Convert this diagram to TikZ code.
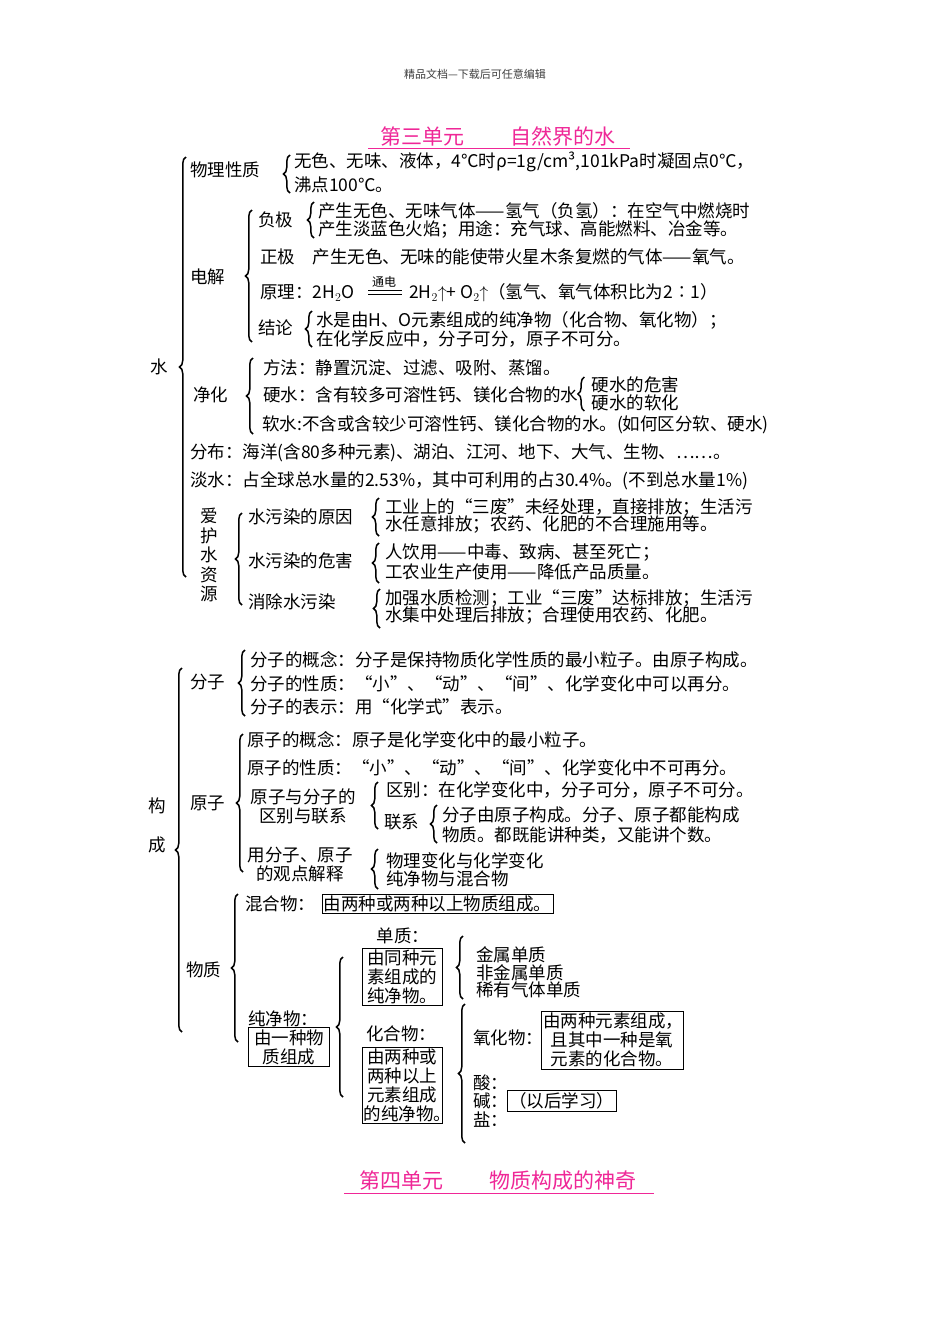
\documentclass[tikz,border=0pt]{standalone}
\usepackage{fontspec}
\setmainfont{Noto Sans CJK SC}
\usetikzlibrary{decorations.pathreplacing}
\tikzset{
 t/.style={anchor=west,inner sep=0pt,font=\fontsize{17.5}{19}\selectfont,align=left},
 tc/.style={anchor=center,inner sep=0pt,font=\fontsize{17.5}{19}\selectfont,align=center},
 brc/.style={decorate,decoration={brace,mirror,amplitude=6.5pt},line width=1.5pt},
 bx/.style={draw,line width=0.9pt},
 ttl/.style={font=\fontsize{21}{24}\selectfont,text=magenta!80!pink,inner sep=0pt}
}
\newcommand\lbr[3]{\draw[brc] (#1,#2) -- (#1,#3);}
\begin{document}
\begin{tikzpicture}[x=1pt,y=-1pt]
\useasboundingbox[fill=white] (0,0) rectangle (950,1344);
\node[inner sep=0,font=\fontsize{11}{12}\selectfont,text=black!75] (hdr) at (475,74) {精品文档---下载后可任意编辑};
\node[ttl] (t1) at (498,136) {第三单元\hspace{2.2em}自然界的水};
\draw[magenta!80!pink,line width=1pt] (368,148) -- (630,148);
% 水
\node[t] (shui) at (150,367) {水};
\lbr{186}{157}{577}
\node[t] (wl) at (190,170) {物理性质};
\lbr{290}{155}{193}
\node[t] at (294,162) {无色、无味、液体，4℃时ρ=1g/cm³,101kPa时凝固点0℃，};
\node[t] at (294,185) {沸点100℃。};
\node[t] (dj) at (190,277) {电解};
\lbr{252}{210}{342}
\node[t] (fj) at (258,220) {负极};
\lbr{314}{202}{238}
\node[t] at (318,211) {产生无色、无味气体——氢气（负氢）：在空气中燃烧时};
\node[t] at (318,229) {产生淡蓝色火焰；用途：充气球、高能燃料、冶金等。};
\node[t] (zj) at (260,257) {正极\hspace{1em}产生无色、无味的能使带火星木条复燃的气体——氧气。};
\node[t] (yl) at (260,293) {原理：2H$_2$O};
\node[inner sep=0,font=\fontsize{12}{13}\selectfont] at (384,282) {通电};
\draw[line width=0.8pt] (368,290) -- (402,290) (368,294) -- (402,294);
\node[t] at (409,293) {2H$_2$$\uparrow$+ O$_2$$\uparrow$（氢气、氧气体积比为2∶1）};
\node[t] (jl) at (258,328) {结论};
\lbr{312}{311}{347}
\node[t] at (316,320) {水是由H、O元素组成的纯净物（化合物、氧化物）；};
\node[t] at (316,339) {在化学反应中，分子可分，原子不可分。};
\node[t] (jh) at (193,395) {净化};
\lbr{253}{358}{434}
\node[t] at (263,368) {方法：静置沉淀、过滤、吸附、蒸馏。};
\node[t] (ys) at (263,395) {硬水：含有较多可溶性钙、镁化合物的水};
\draw[brc] ([xshift=6pt]ys.east |- 0,377) -- ([xshift=6pt]ys.east |- 0,411);
\node[t] (yh) at ([xshift=13pt]ys.east |- 0,385) {硬水的危害};
\node[t] at (yh.west |- 0,403) {硬水的软化};
\node[t] at (262,425) {软水:不含或含较少可溶性钙、镁化合物的水。(如何区分软、硬水)};
\node[t] at (190,453) {分布：海洋(含80多种元素)、湖泊、江河、地下、大气、生物、……。};
\node[t] at (190,481) {淡水：占全球总水量的2.53\%，其中可利用的占30.4\%。(不到总水量1\%)};
\node[tc,font=\fontsize{17.5}{19.5}\selectfont] (ah) at (209,555) {爱\\护\\水\\资\\源};
\lbr{242}{513}{605}
\node[t] at (248,517) {水污染的原因};
\lbr{379}{498}{536}
\node[t] at (385,507) {工业上的“三废”未经处理，直接排放；生活污};
\node[t] at (385,524) {水任意排放；农药、化肥的不合理施用等。};
\node[t] at (248,561) {水污染的危害};
\lbr{379}{543}{583}
\node[t] at (385,553) {人饮用——中毒、致病、甚至死亡；};
\node[t] at (385,572) {工农业生产使用——降低产品质量。};
\node[t] at (248,602) {消除水污染};
\lbr{380}{589}{628}
\node[t] at (385,598) {加强水质检测；工业“三废”达标排放；生活污};
\node[t] at (385,616) {水集中处理后排放；合理使用农药、化肥。};
% 构成
\node[tc] (gou) at (157,806) {构};
\node[tc] (cheng) at (157,845) {成};
\lbr{182}{668}{1032}
\node[t] (fz) at (190,682) {分子};
\lbr{245}{650}{716}
\node[t] at (250,660) {分子的概念：分子是保持物质化学性质的最小粒子。由原子构成。};
\node[t] at (250,684) {分子的性质：“小”、“动”、“间”、化学变化中可以再分。};
\node[t] at (250,707) {分子的表示：用“化学式”表示。};
\node[t] (yz) at (190,803) {原子};
\lbr{243}{734}{872}
\node[t] at (247,740) {原子的概念：原子是化学变化中的最小粒子。};
\node[t] at (247,768) {原子的性质：“小”、“动”、“间”、化学变化中不可再分。};
\node[tc] at (303,806) {原子与分子的\\区别与联系};
\lbr{378}{782}{829}
\node[t] at (386,790) {区别：在化学变化中，分子可分，原子不可分。};
\node[t] at (384,822) {联系};
\lbr{437}{805}{843}
\node[t] at (442,815) {分子由原子构成。分子、原子都能构成};
\node[t] at (442,835) {物质。都既能讲种类，又能讲个数。};
\node[tc] at (300,865) {用分子、原子\\的观点解释};
\lbr{378}{849}{889}
\node[t] at (386,861) {物理变化与化学变化};
\node[t] at (386,879) {纯净物与混合物};
\node[t] (wz) at (186,970) {物质};
\lbr{238}{894}{1042}
\node[t] at (245,904) {混合物：};
\node[t,bx,inner sep=1.5pt] at (322,904) {由两种或两种以上物质组成。};
\node[tc] at (283,1019) {纯净物：};
\node[tc,bx,inner sep=1.5pt,text width=78pt] at (289,1047) {由一种物\\质组成};
\lbr{343}{957}{1097}
\node[tc] at (403,936) {单质：};
\node[tc,bx,inner sep=1.5pt,text width=77pt] at (402,977) {由同种元\\素组成的\\纯净物。};
\lbr{463}{936}{999}
\node[t] at (476,955) {金属单质};
\node[t] at (476,973) {非金属单质};
\node[t] at (476,990) {稀有气体单质};
\node[tc] at (401,1034) {化合物：};
\node[tc,bx,inner sep=1.5pt,text width=77pt] at (402,1085) {由两种或\\两种以上\\元素组成\\的纯净物。};
\lbr{465}{1004}{1143}
\node[t] at (473,1038) {氧化物：};
\node[tc,bx,inner sep=2pt,text width=138pt] at (612,1040) {由两种元素组成，\\且其中一种是氧\\元素的化合物。};
\node[t] at (473,1083) {酸：};
\node[t] at (473,1101) {碱：};
\node[t] at (473,1120) {盐：};
\node[t,bx,inner sep=2pt] at (507,1101) {（以后学习）};
\node[ttl] (t2) at (498,1181) {第四单元\hspace{2.2em}物质构成的神奇};
\draw[magenta!80!pink,line width=1pt] (344,1193) -- (654,1193);
\end{tikzpicture}
\end{document}
